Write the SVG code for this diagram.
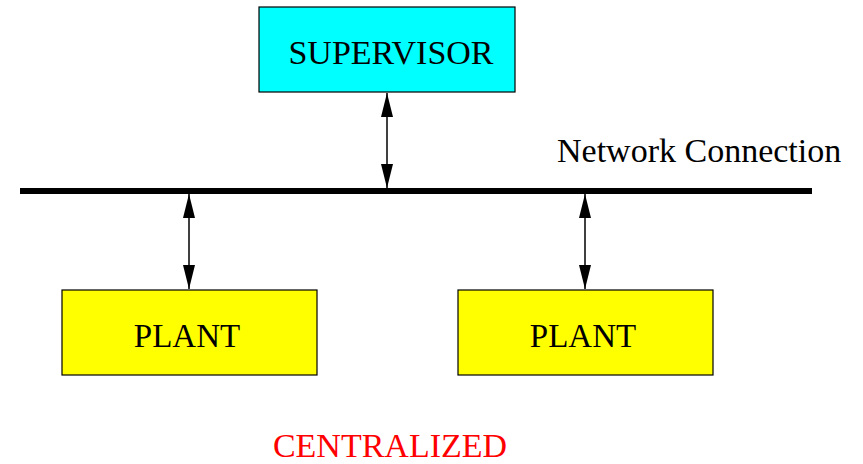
<svg xmlns="http://www.w3.org/2000/svg" width="863" height="464" viewBox="0 0 863 464">
<style>
text{font-family:"Liberation Serif","Times New Roman",serif;font-size:34px;fill:#000}
.lbl{font-size:33px}
.box{stroke:#000;stroke-width:1.2}
.conn{stroke:#000;stroke-width:1.5;fill:none}
</style>
<defs>
<marker id="ah" viewBox="0 0 24 12" refX="24" refY="6" markerWidth="24" markerHeight="12" markerUnits="userSpaceOnUse" orient="auto-start-reverse">
<path d="M0,0 L24,6 L0,12 Z" fill="#000"/>
</marker>
</defs>
<rect width="863" height="464" fill="#fff"/>
<g id="supervisor">
<rect class="box" x="259" y="7" width="256" height="85" fill="#00ffff"/>
<text x="391" y="64" text-anchor="middle">SUPERVISOR</text>
</g>
<g id="plant1">
<rect class="box" x="62" y="290" width="255" height="85" fill="#ffff00"/>
<text class="lbl" x="187" y="347" text-anchor="middle">PLANT</text>
</g>
<g id="plant2">
<rect class="box" x="458" y="290" width="255" height="85" fill="#ffff00"/>
<text class="lbl" x="583" y="347" text-anchor="middle">PLANT</text>
</g>
<g id="network">
<line x1="20" y1="191" x2="812" y2="191" stroke="#000" stroke-width="6"/>
<text x="557" y="162">Network Connection</text>
</g>
<g id="connectors">
<line class="conn" x1="387" y1="93" x2="387" y2="188" marker-start="url(#ah)" marker-end="url(#ah)"/>
<line class="conn" x1="189" y1="194" x2="189" y2="289" marker-start="url(#ah)" marker-end="url(#ah)"/>
<line class="conn" x1="585" y1="194" x2="585" y2="289" marker-start="url(#ah)" marker-end="url(#ah)"/>
</g>
<text x="390" y="457" text-anchor="middle" style="fill:#ff0000">CENTRALIZED</text>
</svg>
